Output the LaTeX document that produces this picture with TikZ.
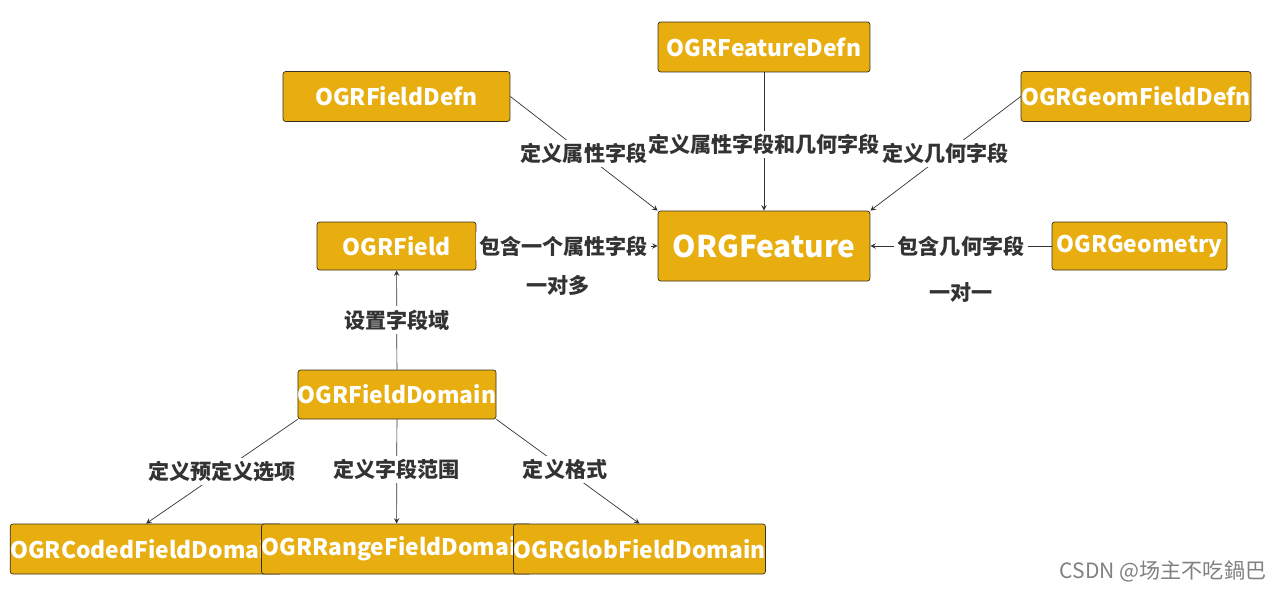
\documentclass[tikz,border=0pt]{standalone}
\usepackage{fontspec}
\setmainfont{Noto Sans CJK SC}
\usetikzlibrary{arrows, positioning, calc}
\definecolor{boxfill}{HTML}{E8AE10}
\definecolor{boxline}{HTML}{3A3020}
\definecolor{txt}{HTML}{333333}
\tikzset{
  cls/.style={rectangle, rounded corners=1.5, draw=boxline, fill=boxfill, text=white, font=\bfseries\fontsize{13}{15}\selectfont, minimum height=1.0cm, inner sep=0pt},
  rel/.style={-stealth, draw=txt, thin},
  lbl/.style={fill=white, text=txt, font=\bfseries\fontsize{12}{14}\selectfont, inner sep=2pt}
}
\begin{document}
\begin{tikzpicture}[x=0.02cm, y=-0.02cm]
			\useasboundingbox (0,0) rectangle (1274,589);
			
			\node[cls, minimum width=4.24cm] (defn) at (764,47) {OGRFeatureDefn};
			\node[cls, minimum width=4.54cm] (fdefn) at (396.5,96.5) {OGRFieldDefn};
			\node[cls, minimum width=4.56cm] (gdefn) at (1136,96.5) {OGRGeomFieldDefn};
			\node[cls, minimum width=4.24cm, minimum height=1.4cm, font=\bfseries\fontsize{17}{20}\selectfont] (feat) at (764,246) {ORGFeature};
			\node[cls, minimum width=3.18cm, minimum height=0.96cm] (field) at (396.5,246) {OGRField};
			\node[cls, minimum width=3.5cm, minimum height=0.96cm] (geom) at (1139.5,246) {OGRGeometry};
			\node[cls, minimum width=3.56cm, minimum height=0.98cm] (dom) at (397,394.5) {OGRFieldDomain};
			\node[cls, minimum width=4.64cm] (coded) at (146,549) {OGRCodedFieldDomain};
			\node[cls, minimum width=4.66cm] (range) at (396.5,549) {OGRRangeFieldDomain};
			\node[cls, minimum width=4.34cm] (glob) at (639.5,549) {OGRGlobFieldDomain};
			
			\draw[rel] (fdefn.east) -- node[lbl, pos=0.5] {定义属性字段} (feat.north west);
			\draw[rel] (defn) -- node[lbl, pos=0.52] {定义属性字段和几何字段} (feat);
			\draw[rel] (gdefn.west) -- node[lbl, pos=0.5] {定义几何字段} (feat.north east);
			\draw[rel] (field) -- node[lbl, pos=0.48] {包含一个属性字段} (feat);
			\draw[rel] (geom) -- node[lbl] {包含几何字段} (feat);
			\draw[rel] (dom) -- node[lbl] {设置字段域} (field);
			\draw[rel] (dom.south west) -- node[lbl] {定义预定义选项} (coded.north);
			\draw[rel] (dom) -- node[lbl, pos=0.48] {定义字段范围} (range);
			\draw[rel] (dom.south east) -- node[lbl, pos=0.48] {定义格式} (glob.north);
			
			\node[lbl] (one2many) at (558,285) {一对多};
			\node[lbl] (one2one) at (961,292) {一对一};
			\node[text=gray, font=\fontsize{12}{14}\selectfont] (mark) at (1163,571) {CSDN @场主不吃鍋巴};
		\end{tikzpicture}
\end{document}
